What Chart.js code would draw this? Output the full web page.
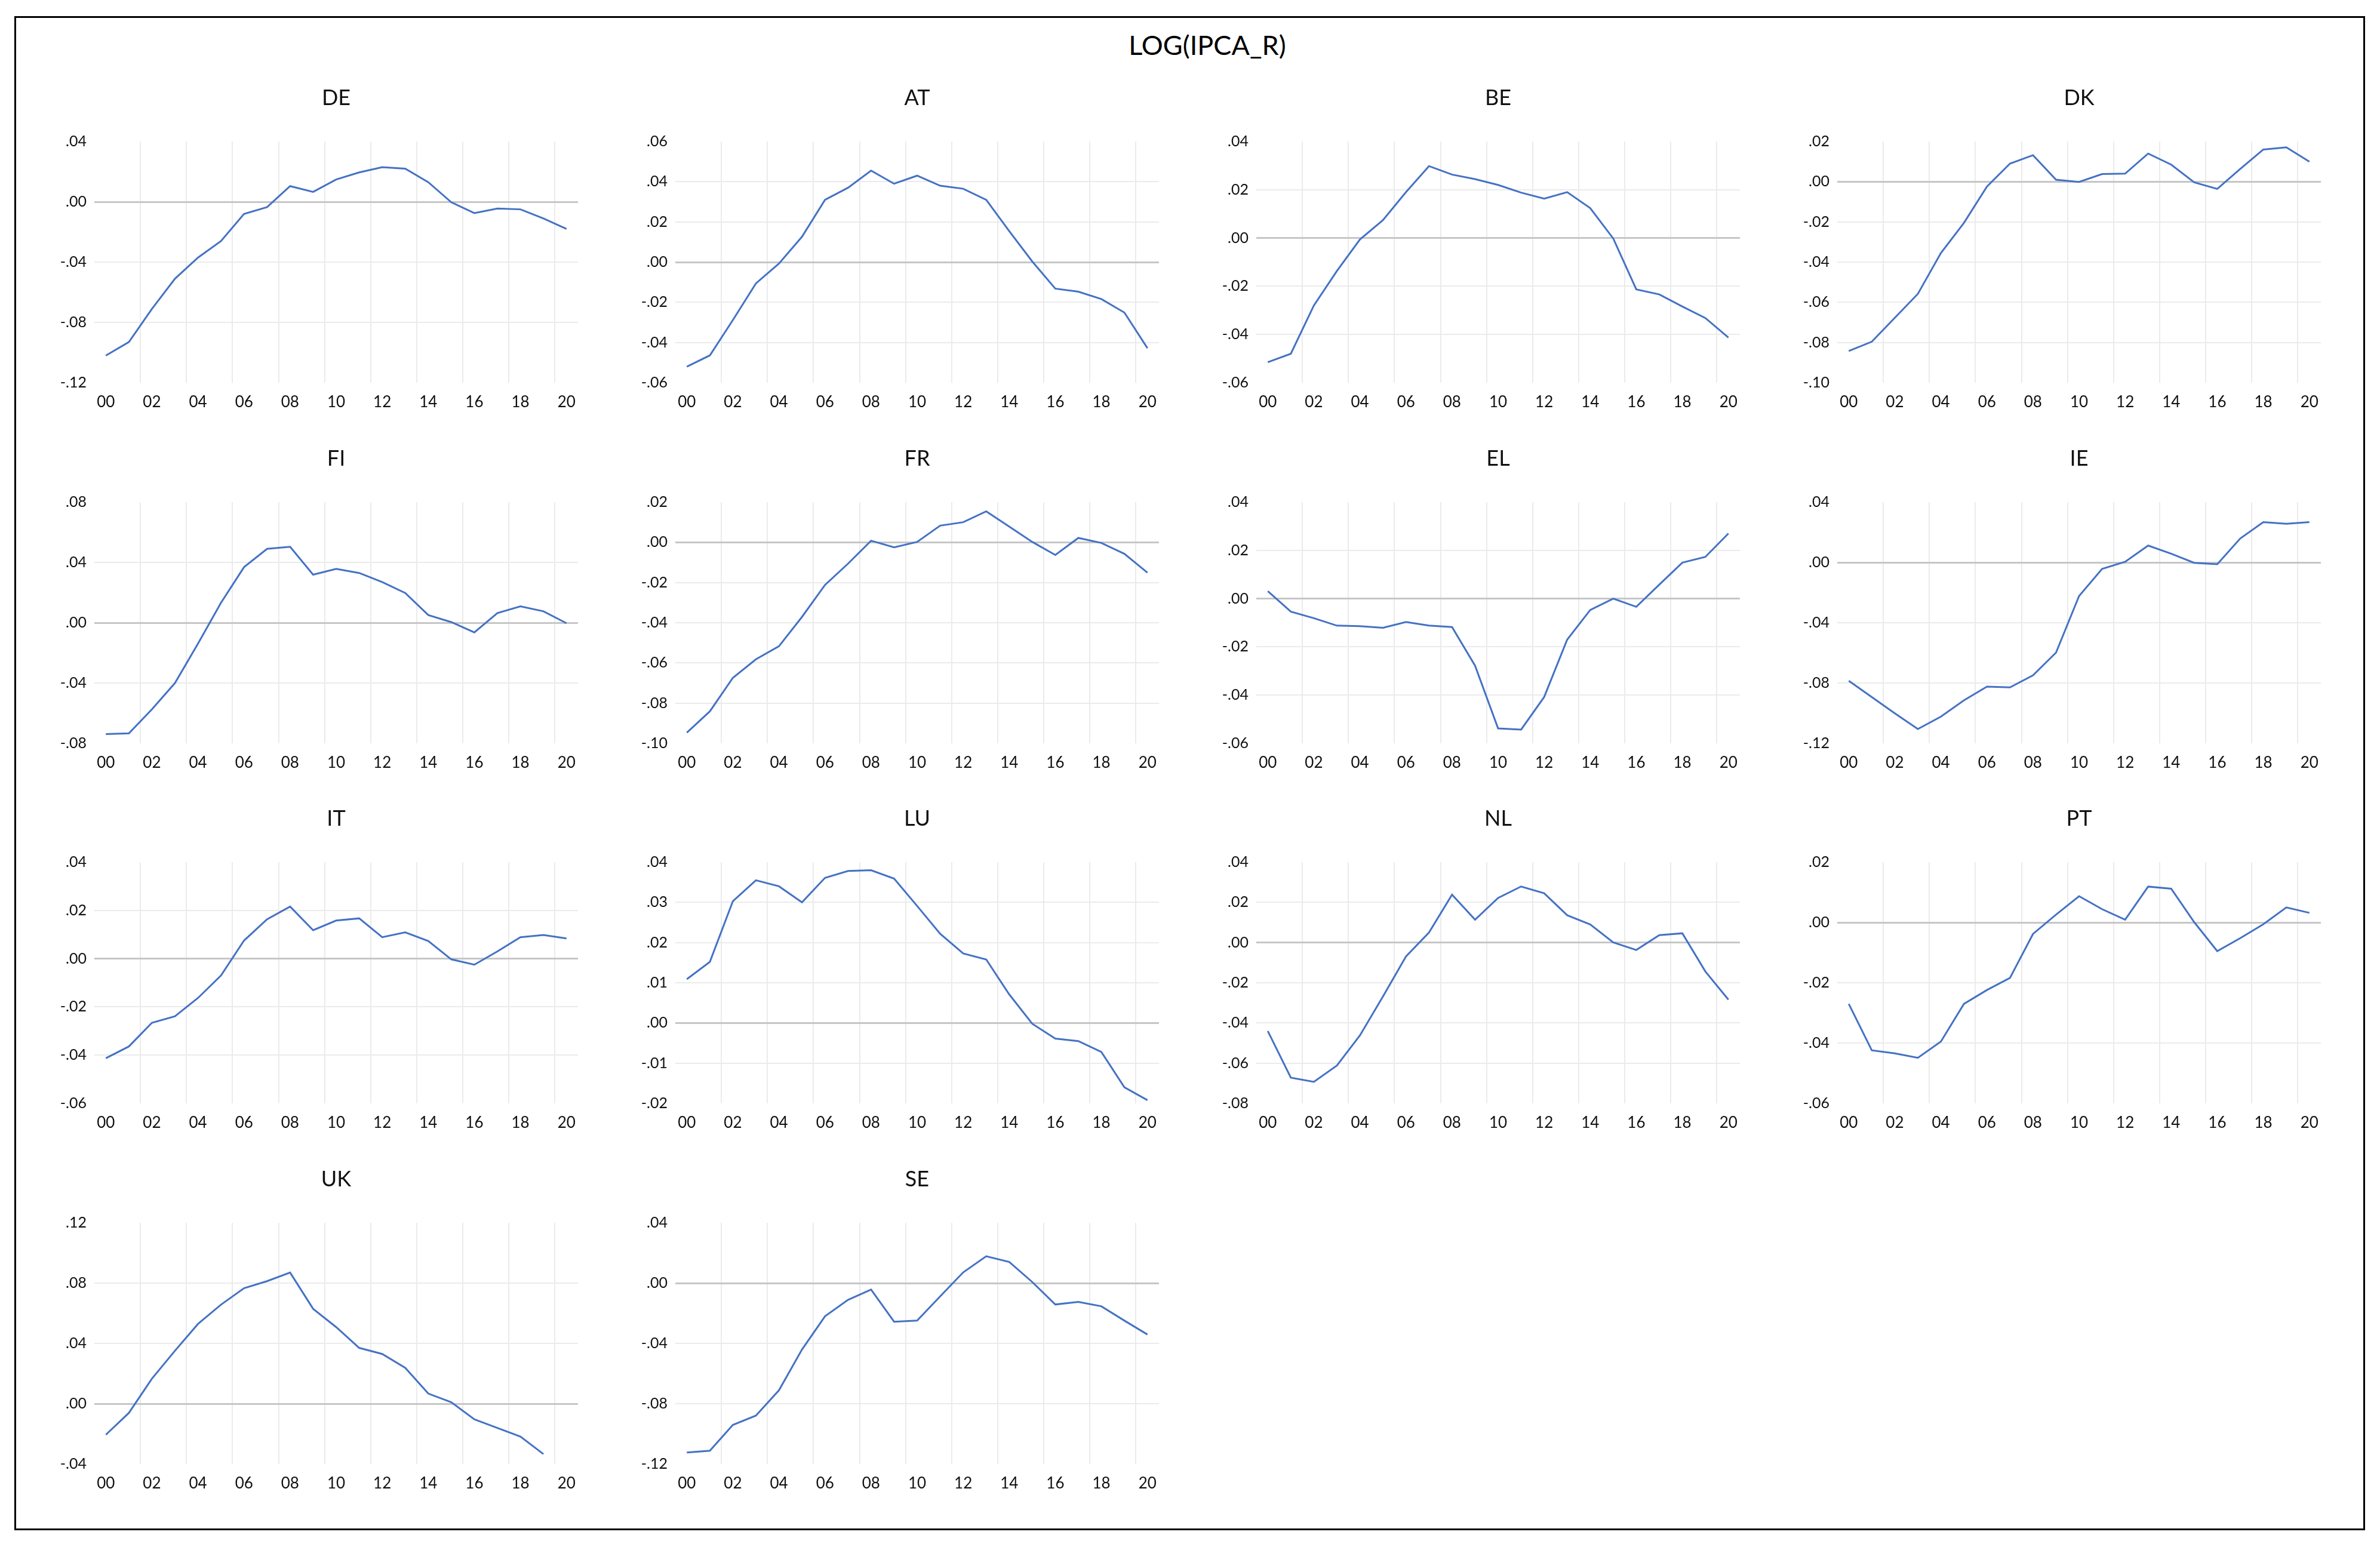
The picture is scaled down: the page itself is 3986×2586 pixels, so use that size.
<!DOCTYPE html>
<html>
<head>
<meta charset="utf-8">
<title>LOG(IPCA_R)</title>
<script src="https://cdn.jsdelivr.net/npm/chart.js@4.4.0/dist/chart.umd.min.js"></script>
<style>
    body { margin: 0; background: #fff; }
    #page { position: relative; width: 3986px; height: 2586px; overflow: hidden; background: #fff; }
    #frame { position: absolute; left: 24px; top: 27px; width: 3937px; height: 2536px; border: 3px solid #000; box-sizing: border-box; }
    #title { position: absolute; left: 2022px; top: 53px; transform: translateX(-50%); font-family: Lato; font-size: 45px; line-height: 45px; white-space: nowrap; color: #000; }
    canvas { position: absolute; }
</style>
</head>
<body>
<div id="page">
    <div id="frame"></div>
    <div id="title">LOG(IPCA_R)</div>
</div>
<script>
// подписи лет на оси X
const years = ['00', '01', '02', '03', '04', '05', '06', '07', '08', '09', '10',
    '11', '12', '13', '14', '15', '16', '17', '18', '19', '20'];

const countries = ['DE', 'AT', 'BE', 'DK', 'FI', 'FR', 'EL', 'IE', 'IT', 'LU', 'NL', 'PT', 'UK', 'SE'];

const DE = [-0.102, -0.093, -0.071, -0.051, -0.037, -0.026, -0.008, -0.0035, 0.0104, 0.0066, 0.0148,
    0.0195, 0.023, 0.022, 0.013, -0.0003, -0.0075, -0.0045, -0.005, -0.011, -0.018];
const AT = [-0.052, -0.0464, -0.0288, -0.0106, -0.0007, 0.0126, 0.031, 0.037, 0.0455, 0.039, 0.043,
    0.038, 0.0365, 0.031, 0.0154, 0.0003, -0.0132, -0.0147, -0.0184, -0.0251, -0.0428];
const BE = [-0.0515, -0.048, -0.028, -0.0137, -0.0006, 0.0074, 0.019, 0.0298, 0.0263, 0.0244, 0.022,
    0.0188, 0.0163, 0.019, 0.0124, -0.0002, -0.0213, -0.0234, -0.0284, -0.0332, -0.0413];
const DK = [-0.0842, -0.0796, -0.0677, -0.0558, -0.0355, -0.0205, -0.0024, 0.009, 0.0132, 0.001, -0.0001,
    0.0038, 0.004, 0.014, 0.0085, -0.0003, -0.0036, 0.0064, 0.016, 0.0171, 0.010];
const FI = [-0.0739, -0.0734, -0.0574, -0.040, -0.0139, 0.0133, 0.0369, 0.049, 0.0504, 0.0319, 0.0357,
    0.033, 0.027, 0.0197, 0.0051, 0.0004, -0.0064, 0.0064, 0.0109, 0.0076, -0.0003];
const FR = [-0.0947, -0.0841, -0.0674, -0.0582, -0.0517, -0.0371, -0.0212, -0.0106, 0.0008, -0.0025, 0.0002,
    0.0083, 0.010, 0.0154, 0.0078, 0.0002, -0.0063, 0.0022, -0.0003, -0.0057, -0.0151];
const EL = [0.0031, -0.0054, -0.0081, -0.0112, -0.0114, -0.0121, -0.0097, -0.0112, -0.0118, -0.0278, -0.0538,
    -0.0543, -0.0408, -0.017, -0.0047, 0.000, -0.0034, 0.0058, 0.0149, 0.0173, 0.027];
const IE = [-0.0785, -0.0893, -0.1001, -0.1105, -0.1023, -0.0915, -0.0824, -0.0829, -0.0749, -0.0598, -0.0223,
    -0.0043, 0.0004, 0.0112, 0.0058, -0.0003, -0.0012, 0.0159, 0.0267, 0.0256, 0.0267];
const IT = [-0.0413, -0.0364, -0.0266, -0.0239, -0.0163, -0.007, 0.0075, 0.0163, 0.0216, 0.0118, 0.0158,
    0.0167, 0.0089, 0.0109, 0.0073, -0.0003, -0.0025, 0.003, 0.0089, 0.0098, 0.0084];
const LU = [0.0109, 0.0152, 0.0303, 0.0355, 0.034, 0.030, 0.0361, 0.0378, 0.038, 0.0359, 0.0291,
    0.0222, 0.0173, 0.0158, 0.0071, -0.0002, -0.0039, -0.0045, -0.0072, -0.016, -0.0192];
const NL = [-0.044, -0.0672, -0.0693, -0.0612, -0.0462, -0.0268, -0.0069, 0.005, 0.0238, 0.0114, 0.0222,
    0.0279, 0.0245, 0.0136, 0.009, 0.0001, -0.0037, 0.0037, 0.0046, -0.0144, -0.0284];
const PT = [-0.027, -0.0424, -0.0434, -0.0449, -0.0395, -0.027, -0.0224, -0.0184, -0.0038, 0.0026, 0.0087,
    0.0044, 0.0009, 0.0119, 0.0112, 0.0001, -0.0095, -0.0052, -0.0006, 0.005, 0.0032];
const UK = [-0.0206, -0.0061, 0.0166, 0.0351, 0.0529, 0.0657, 0.0766, 0.0813, 0.087, 0.0629, 0.0508,
    0.037, 0.033, 0.0238, 0.0067, 0.001, -0.0104, -0.0161, -0.0218, -0.0334, null];
const SE = [-0.1124, -0.1112, -0.0941, -0.0879, -0.0711, -0.0441, -0.022, -0.0111, -0.0043, -0.0256, -0.0249,
    -0.0088, 0.0071, 0.0178, 0.014, 0.0007, -0.0142, -0.0125, -0.0154, -0.0249, -0.0341];

const series = [DE, AT, BE, DK, FI, FR, EL, IE, IT, LU, NL, PT, UK, SE];

// шкалы Y по панелям
const yMin = [-0.12, -0.06, -0.06, -0.10, -0.08, -0.10, -0.06, -0.12, -0.06, -0.02, -0.08, -0.06, -0.04, -0.12];
const yMax = [0.04, 0.06, 0.04, 0.02, 0.08, 0.02, 0.04, 0.04, 0.04, 0.04, 0.04, 0.02, 0.12, 0.04];
const yStep = [0.04, 0.02, 0.02, 0.02, 0.04, 0.02, 0.02, 0.04, 0.02, 0.01, 0.02, 0.02, 0.04, 0.04];

// геометрия сетки панелей
const PLOT_LEFT = 158, PLOT_TOP = 237;
const COL_STEP = 973, ROW_STEP = 603.7;
const PLOT_W = 810, PLOT_H = 404;
const AXIS_W = 120, PAD_L = 10, PAD_R = 20;
const TOP_H = 100, BOTTOM_H = 70;

const LINE_COLOR = '#4472C4';
const GRID_COLOR = '#ebebeb';
const ZERO_COLOR = '#c6c6c6';

Chart.defaults.font.family = 'Lato';
Chart.defaults.color = '#111';

function fmt(v) {
    if (Math.abs(v) < 1e-9) v = 0;
    let s = Math.abs(v).toFixed(2).replace(/^0/, '');
    return (v < 0 ? '-' : '') + s;
}

function makePanel(i) {
    const col = i % 4;
    const row = Math.floor(i / 4);
    const x0 = PLOT_LEFT + COL_STEP * col;
    const y0 = Math.round(PLOT_TOP + ROW_STEP * row);

    const canvas = document.createElement('canvas');
    canvas.width = PAD_L + AXIS_W + PLOT_W + PAD_R;
    canvas.height = TOP_H + PLOT_H + BOTTOM_H;
    canvas.style.left = (x0 - AXIS_W - PAD_L) + 'px';
    canvas.style.top = (y0 - TOP_H) + 'px';
    document.getElementById('page').appendChild(canvas);

    const min = yMin[i], max = yMax[i], step = yStep[i];
    const points = series[i].map((v, k) => ({x: k, y: v}));

    new Chart(canvas.getContext('2d'), {
        type: 'line',
        data: {
            datasets: [{
                label: countries[i],
                data: points,
                borderColor: LINE_COLOR,
                borderWidth: 3,
                pointRadius: 0,
                tension: 0,
                fill: false
            }]
        },
        options: {
            responsive: false,
            animation: false,
            devicePixelRatio: 1,
            layout: {padding: {left: PAD_L, right: PAD_R, top: 0, bottom: 0}},
            plugins: {
                legend: {display: false},
                tooltip: {enabled: false},
                title: {
                    display: true,
                    text: countries[i],
                    fullSize: false,
                    color: '#111',
                    font: {size: 36, weight: 'normal'},
                    padding: {top: 6, bottom: TOP_H - 6 - 43.2}
                }
            },
            scales: {
                x: {
                    type: 'linear',
                    min: -0.5,
                    max: 20.5,
                    afterBuildTicks: function (scale) {
                        const t = [];
                        for (let k = 0; k <= 42; k++) t.push({value: -0.5 + k * 0.5});
                        scale.ticks = t;
                    },
                    afterFit: function (scale) { scale.height = BOTTOM_H; },
                    ticks: {
                        autoSkip: false,
                        maxRotation: 0,
                        minRotation: 0,
                        padding: 17,
                        font: {size: 26},
                        callback: function (value) {
                            if (Number.isInteger(value) && value % 2 === 0) return years[value];
                            return '';
                        }
                    },
                    grid: {
                        drawTicks: false,
                        lineWidth: 2,
                        // линии сетки по границам чётных лет
                        color: function (ctx) {
                            const v = ctx.tick ? ctx.tick.value : null;
                            if (v !== null && v >= 1.5 && (v - 1.5) % 2 === 0) return GRID_COLOR;
                            return 'rgba(0,0,0,0)';
                        }
                    },
                    border: {display: false}
                },
                y: {
                    type: 'linear',
                    min: min,
                    max: max,
                    afterBuildTicks: function (scale) {
                        const n = Math.round((max - min) / step);
                        const t = [];
                        for (let k = 0; k <= n; k++) t.push({value: Math.round((min + k * step) * 1e6) / 1e6});
                        scale.ticks = t;
                    },
                    afterFit: function (scale) { scale.width = AXIS_W; },
                    ticks: {
                        padding: 13,
                        font: {size: 25},
                        callback: function (value) { return fmt(value); }
                    },
                    grid: {
                        drawTicks: false,
                        lineWidth: function (ctx) {
                            return ctx.tick && Math.abs(ctx.tick.value) < 1e-9 ? 3 : 2;
                        },
                        color: function (ctx) {
                            if (!ctx.tick) return 'rgba(0,0,0,0)';
                            const v = ctx.tick.value;
                            if (Math.abs(v) < 1e-9) return ZERO_COLOR;
                            if (Math.abs(v - min) < 1e-9 || Math.abs(v - max) < 1e-9) return 'rgba(0,0,0,0)';
                            return GRID_COLOR;
                        }
                    },
                    border: {display: false}
                }
            }
        }
    });
}

for (let i = 0; i < countries.length; i++) {
    makePanel(i);
}
</script>
</body>
</html>
